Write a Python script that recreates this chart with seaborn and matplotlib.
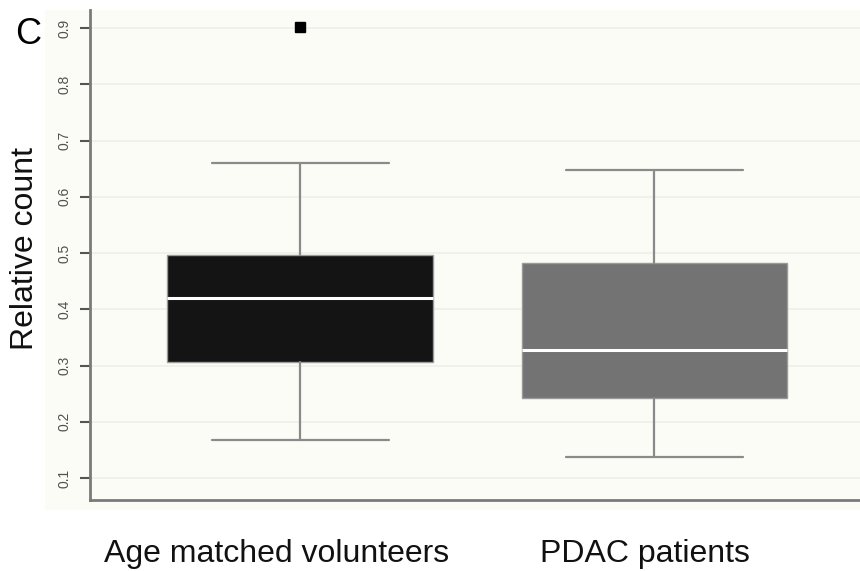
import matplotlib
matplotlib.use("Agg")
import matplotlib.pyplot as plt
from matplotlib.patches import Rectangle
from matplotlib.transforms import ScaledTranslation
import seaborn as sns

# Group labels and box summary statistics (relative counts)
groups = ["Age matched volunteers", "PDAC patients"]
whisker_low = [0.167, 0.137]
q1 = [0.306, 0.242]
median = [0.420, 0.327]
q3 = [0.496, 0.482]
whisker_high = [0.660, 0.647]
outliers = [[0.902], []]
box_colors = ["#141414", "#737373"]
y_ticks = [0.1, 0.2, 0.3, 0.4, 0.5, 0.6, 0.7, 0.8, 0.9]

sns.set_theme(style="whitegrid")
plt.rcParams["font.family"] = ["Liberation Sans", "DejaVu Sans"]

fig = plt.figure(figsize=(8.6, 5.71), dpi=100, facecolor="white")
# soft panel background behind the axis area
fig.patches.append(Rectangle((45 / 860, 1 - 510 / 571), 815 / 860, 500 / 571,
                             transform=fig.transFigure, facecolor="#fcfcf6",
                             edgecolor="none", zorder=-10))
ax = fig.add_axes([90 / 860, 1 - 500 / 571, 770 / 860, 490 / 571])
ax.set_facecolor("#fcfcf6")

stats = []
for i, name in enumerate(groups):
    stats.append(dict(label=name, whislo=whisker_low[i], q1=q1[i], med=median[i],
                      q3=q3[i], whishi=whisker_high[i], fliers=outliers[i]))

bp = ax.bxp(stats, positions=[0, 1], widths=0.75, patch_artist=True,
            showfliers=True,
            boxprops=dict(edgecolor="#9a9a9a", linewidth=1.0),
            medianprops=dict(color="white", linewidth=2.2),
            whiskerprops=dict(color="#8a8a8a", linewidth=1.6),
            capprops=dict(color="#8a8a8a", linewidth=1.6),
            capwidths=0.5,
            flierprops=dict(marker="s", markersize=7, markerfacecolor="black",
                            markeredgecolor="black"))
for patch, c in zip(bp["boxes"], box_colors):
    patch.set_facecolor(c)

ax.set_xlim(-0.593, 1.58)
ax.set_ylim(0.061, 0.932)
ax.set_yticks(y_ticks)
ax.set_yticklabels([f"{v:.1f}" for v in y_ticks], rotation=90, va="center",
                   fontsize=10, color="#505050")
ax.set_xticks([0, 1])
ax.set_xticklabels(groups, fontsize=23, color="#111111")
ax.tick_params(axis="x", length=0, pad=28)
ax.tick_params(axis="y", length=7, width=1.5, color="#555555", pad=6, left=True)

# nudge the category labels slightly left of their box centres
for lbl, dx in zip(ax.get_xticklabels(), [-24, -10]):
    lbl.set_transform(lbl.get_transform() + ScaledTranslation(dx / 100, 0, fig.dpi_scale_trans))

ax.grid(axis="y", color="#efefe9", linewidth=1.2)
ax.grid(axis="x", visible=False)
for side in ["top", "right"]:
    ax.spines[side].set_visible(False)
for side in ["left", "bottom"]:
    ax.spines[side].set_visible(True)
    ax.spines[side].set_color("#7a7a7a")
    ax.spines[side].set_linewidth(2.0)

ax.set_ylabel("Relative count", fontsize=23, color="#111111")
ax.yaxis.set_label_coords(-0.065, 0.514)
fig.text(28 / 860, 1 - 35 / 571, "C", fontsize=26, color="black",
         ha="center", va="center")

fig.savefig("out.png", dpi=100, facecolor="white")
